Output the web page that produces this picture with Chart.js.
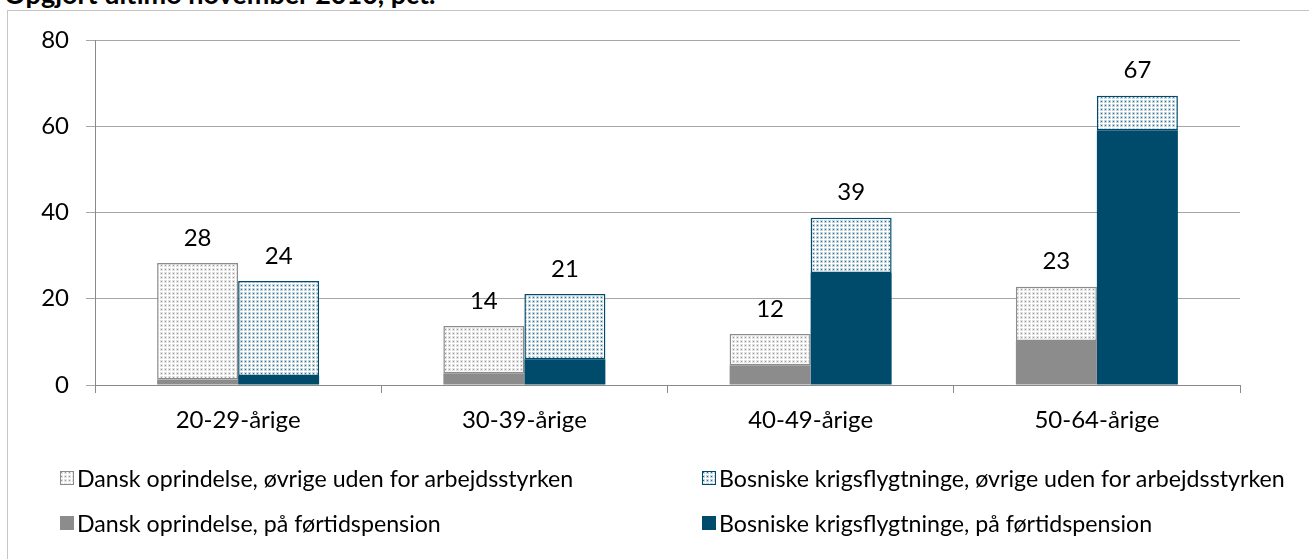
<!DOCTYPE html>
<html>
<head>
<meta charset="utf-8">
<script src="https://cdn.jsdelivr.net/npm/chart.js@4/dist/chart.umd.min.js"></script>
<style>
  html, body { margin: 0; padding: 0; background: #fff; }
  body { width: 1309px; height: 559px; position: relative; overflow: hidden; font-family: Lato, "Open Sans", sans-serif; }
  #frame { position: absolute; left: 7px; top: 10px; width: 1400px; height: 700px; border-top: 1px solid #c6c6c6; border-left: 1px solid #c6c6c6; }
  #title { position: absolute; left: 4px; top: -23px; font-size: 27px; font-weight: bold; color: #000; white-space: nowrap; }
  #wrap { position: absolute; left: 0; top: 0; width: 1309px; height: 559px; }
  .leg { position: absolute; display: flex; align-items: center; font-size: 23.2px; color: #000; white-space: nowrap; }
  .leg canvas { margin-right: 3px; }
</style>
</head>
<body>
<div id="title">Opgjort ultimo november 2010, pct.</div>
<div id="frame"></div>
<div id="wrap"><canvas id="c" width="1309" height="559"></canvas></div>
<div id="legend"></div>
<script>
// ---- data ----
const categories = ['20-29-årige', '30-39-årige', '40-49-årige', '50-64-årige'];
const danskTotal = [28.3, 13.7, 11.8, 22.8];
const danskPension = [1.3, 2.7, 4.6, 10.2];
const bosniskTotal = [24.1, 21.1, 38.8, 67.1];
const bosniskPension = [2.1, 6.0, 26.0, 59.1];
const yTicks = [0, 20, 40, 60, 80];
const seriesLabels = [
  'Dansk oprindelse, øvrige uden for arbejdsstyrken',
  'Bosniske krigsflygtninge, øvrige uden for arbejdsstyrken',
  'Dansk oprindelse, på førtidspension',
  'Bosniske krigsflygtninge, på førtidspension'
];

const danskOvrige = danskTotal.map((t, i) => +(t - danskPension[i]).toFixed(1));
const bosniskOvrige = bosniskTotal.map((t, i) => +(t - bosniskPension[i]).toFixed(1));

const GREY = '#8c8c8c';
const TEAL = '#004b6b';

function makePattern(dot, halo) {
  const p = document.createElement('canvas');
  p.width = 4; p.height = 4;
  const g = p.getContext('2d');
  g.fillStyle = '#ffffff'; g.fillRect(0, 0, 4, 4);
  g.fillStyle = halo; g.fillRect(0, 0, 3, 3);
  g.fillStyle = dot; g.fillRect(1, 1, 1, 1);
  return g.createPattern(p, 'repeat');
}
const ctx = document.getElementById('c').getContext('2d');
const patGrey = makePattern('#999999', '#e2e2e2');
const patTeal = makePattern('#2a6a84', '#c4d7e0');

const FONT = 'Lato, "Open Sans", sans-serif';
const FSIZE = 24;

const datasets = [
  { label: seriesLabels[2], data: danskPension, stack: 'dk', backgroundColor: GREY, borderWidth: 0 },
  { label: seriesLabels[3], data: bosniskPension, stack: 'bs', backgroundColor: TEAL, borderWidth: 0 },
  { label: seriesLabels[0], data: danskOvrige, stack: 'dk', backgroundColor: patGrey, borderColor: GREY, borderWidth: 1.5, borderSkipped: false, totals: danskTotal },
  { label: seriesLabels[1], data: bosniskOvrige, stack: 'bs', backgroundColor: patTeal, borderColor: TEAL, borderWidth: 1.5, borderSkipped: false, totals: bosniskTotal }
];

const totalLabels = {
  id: 'totalLabels',
  afterDatasetsDraw(chart) {
    const c = chart.ctx;
    c.save();
    c.font = FSIZE + 'px ' + FONT;
    c.fillStyle = '#000';
    c.textAlign = 'center';
    c.textBaseline = 'middle';
    chart.data.datasets.forEach((ds, di) => {
      if (!ds.totals) return;
      const meta = chart.getDatasetMeta(di);
      meta.data.forEach((bar, i) => {
        c.fillText(String(Math.round(ds.totals[i])), bar.x, bar.y - 25);
      });
    });
    c.restore();
  }
};

const chart = new Chart(ctx, {
  type: 'bar',
  data: { labels: categories, datasets },
  options: {
    responsive: false,
    devicePixelRatio: 1,
    animation: false,
    layout: { padding: { left: 0, top: 40, right: 69, bottom: 114 } },
    plugins: { legend: { display: false }, tooltip: { enabled: false } },
    datasets: { bar: { categoryPercentage: 0.566, barPercentage: 1.0 } },
    scales: {
      x: {
        stacked: true,
        afterFit(s) { s.height = 60; },
        grid: { offset: true, drawOnChartArea: false, drawTicks: true, tickLength: 8, color: '#8a8a8a' },
        border: { display: true, color: '#8a8a8a' },
        ticks: { color: '#000', font: { family: FONT, size: FSIZE }, padding: 13, maxRotation: 0 }
      },
      y: {
        stacked: true,
        min: 0, max: 80,
        afterFit(s) { s.width = 95; },
        afterBuildTicks(s) { s.ticks = yTicks.map(v => ({ value: v })); },
        grid: { color: '#a6a6a6', tickLength: 9, drawTicks: true },
        border: { display: true, color: '#8a8a8a' },
        ticks: { color: '#000', font: { family: FONT, size: FSIZE }, padding: 17 }
      }
    }
  },
  plugins: [totalLabels]
});

// ---- HTML legend built from the chart's datasets ----
const legendPos = [
  { ds: 2, x: 60, y: 478 },
  { ds: 3, x: 702, y: 478 },
  { ds: 0, x: 60, y: 523 },
  { ds: 1, x: 702, y: 523 }
];
const legendDiv = document.getElementById('legend');
legendPos.forEach(p => {
  const ds = chart.data.datasets[p.ds];
  const item = document.createElement('div');
  item.className = 'leg';
  item.style.left = p.x + 'px';
  item.style.top = (p.y - 15) + 'px';
  item.style.height = '30px';
  const box = document.createElement('canvas');
  box.width = 14; box.height = 14;
  const g = box.getContext('2d');
  g.fillStyle = ds.backgroundColor;
  g.fillRect(0, 0, 14, 14);
  if (ds.borderWidth) {
    g.strokeStyle = ds.borderColor; g.lineWidth = 1;
    g.strokeRect(0.5, 0.5, 13, 13);
  }
  const t = document.createElement('span');
  t.textContent = ds.label;
  item.appendChild(box);
  item.appendChild(t);
  legendDiv.appendChild(item);
});
</script>
</body>
</html>
